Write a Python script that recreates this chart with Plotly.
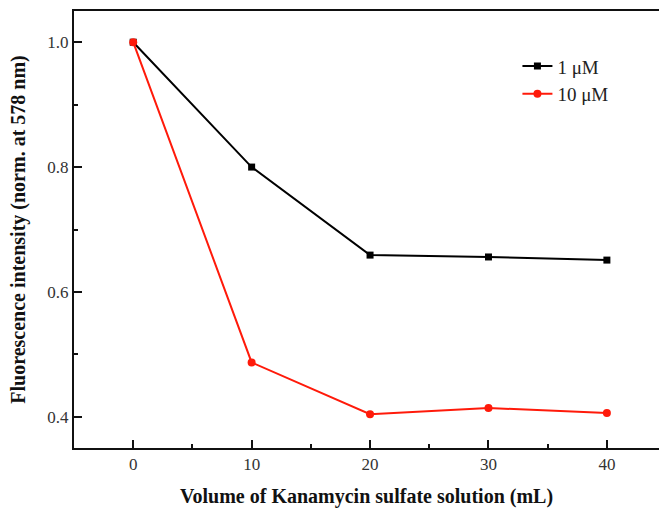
import plotly.graph_objects as go

volumes = [0, 10, 20, 30, 40]
series_1uM = [1.0, 0.80, 0.659, 0.656, 0.651]
series_10uM = [1.0, 0.487, 0.404, 0.414, 0.406]
names = ["1 μM", "10 μM"]

font_family = "Liberation Serif, Times New Roman, serif"

fig = go.Figure()
fig.add_trace(go.Scatter(
    x=volumes, y=series_1uM, name=names[0], mode="lines+markers",
    line=dict(color="black", width=2),
    marker=dict(symbol="square", size=7, color="black"),
))
fig.add_trace(go.Scatter(
    x=volumes, y=series_10uM, name=names[1], mode="lines+markers",
    line=dict(color="#ff1a0a", width=2),
    marker=dict(symbol="circle", size=8, color="#ff1a0a"),
))

fig.update_layout(
    width=659, height=510,
    margin=dict(l=74, r=0, t=11, b=62, autoexpand=False),
    paper_bgcolor="white", plot_bgcolor="white",
    font=dict(family=font_family, color="#222"),
    showlegend=True,
    legend=dict(
        x=0.758, y=0.917, xanchor="left", yanchor="top",
        font=dict(family=font_family, size=19, color="#222"),
        bgcolor="rgba(0,0,0,0)", tracegroupgap=0, itemwidth=30,
    ),
)
fig.update_xaxes(
    range=[-5, 44.4], tickvals=[0, 10, 20, 30, 40], automargin=False,
    ticks="inside", ticklen=8, tickwidth=2, tickcolor="#111",
    minor=dict(tickvals=[5, 15, 25, 35], ticks="inside", ticklen=4, tickwidth=2, tickcolor="#111"),
    showline=True, linecolor="#111", linewidth=2, mirror=True,
    showgrid=False, zeroline=False,
    tickfont=dict(size=17, color="#333"),
    title=dict(text="<b>Volume of Kanamycin sulfate solution (mL)</b>",
               font=dict(size=20, color="#111"), standoff=16),
)
fig.update_yaxes(
    range=[0.35, 1.05], tickvals=[0.4, 0.6, 0.8, 1.0], ticktext=["0.4", "0.6", "0.8", "1.0"],
    automargin=False,
    ticks="inside", ticklen=8, tickwidth=2, tickcolor="#111",
    minor=dict(tickvals=[0.5, 0.7, 0.9], ticks="inside", ticklen=4, tickwidth=2, tickcolor="#111"),
    showline=True, linecolor="#111", linewidth=2, mirror=False,
    showgrid=False, zeroline=False,
    tickfont=dict(size=17, color="#333"),
    title=dict(text="<b>Fluorescence intensity (norm. at 578 nm)</b>",
               font=dict(size=20, color="#111"), standoff=16),
)

fig.write_html(
    "out.html",
    config={"displayModeBar": False},
    post_script="document.body.style.margin='0';document.body.style.overflow='hidden';",
)
